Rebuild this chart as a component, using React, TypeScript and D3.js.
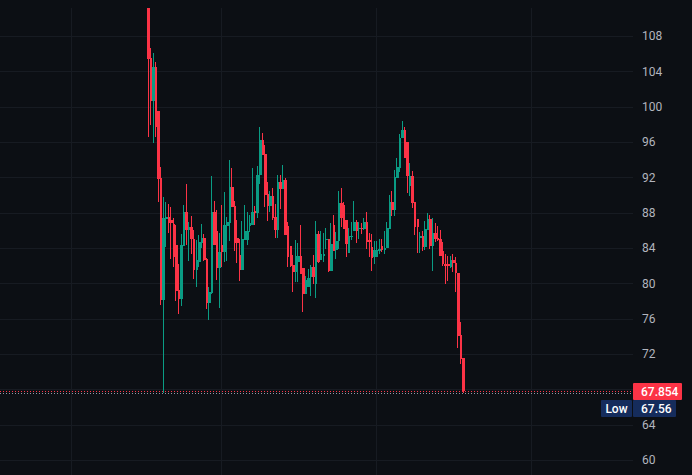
import React from "react";
import * as d3 from "d3";

const W = 692, H = 475;
const ticks = [108, 104, 100, 96, 92, 88, 84, 80, 76, 72, 64, 60];
const gridTicks = [108, 104, 100, 96, 92, 88, 84, 80, 76, 72, 68, 64, 60];
const timeGrid = [-30, 29, 90, 151];
const lastPrice = 67.854;
const lowPrice = 67.56;

const opens = [111.17,105.51,100.64,104.49,99.51,91.92,78.11,87.28,87.5,87.17,86.71,84.33,79.24,78.22,84.22,88.07,86.03,86.37,85.01,81.5,82.41,84.56,85.13,82.75,77.77,78.9,88.07,85.92,81.73,84.33,83.54,86.49,86.83,90.9,88.75,85.13,83.2,81.5,84.9,84.9,86.49,86.6,88.19,87.96,92.26,96.22,94.64,90.11,88.75,89.88,87.51,86.03,91.47,90.68,91.7,86.49,84.22,82.07,81.28,82.41,83.09,81.73,78.78,79.58,80.71,81.84,79.92,85.58,82.64,83.09,84.9,85.01,81.39,86.6,83.77,84.79,89.09,88.86,87.17,83.43,85.35,85.92,86.94,86.15,86.26,86.15,86.94,84.9,84.11,82.97,82.97,83.66,84.22,83.77,84.0,86.15,89.2,88.3,91.92,93.05,96.45,97.36,96.0,91.02,92.15,89.2,87.28,85.13,85.35,84.11,86.03,87.28,84.22,85.69,85.13,85.01,83.66,82.18,82.18,81.84,82.64,82.3,81.16,74.14,71.53];
const highs = [111.17,106.64,106.08,105.06,99.51,93.17,89.77,89.2,88.98,88.64,87.39,86.6,82.18,85.58,88.86,91.24,86.94,87.62,86.03,84.9,85.47,86.71,85.58,82.86,79.58,92.15,89.32,88.3,85.69,88.86,90.34,87.51,93.96,93.05,89.32,87.17,85.0,87.05,88.86,88.07,87.73,93.05,88.75,93.28,97.7,97.02,95.66,91.47,90.45,90.79,88.98,92.26,92.26,93.39,91.92,86.94,84.22,83.2,84.9,84.56,86.6,81.73,80.82,81.62,82.07,83.2,87.05,85.92,85.92,85.69,86.26,85.01,86.83,87.73,85.81,90.45,90.79,89.2,87.17,86.26,86.94,89.32,87.17,86.94,86.83,87.39,88.07,85.69,85.58,84.79,84.79,85.01,85.01,85.92,86.94,89.99,90.45,92.83,94.19,96.9,98.38,97.7,96.0,93.62,92.72,89.2,87.28,85.81,85.92,87.05,87.96,87.73,87.39,86.83,86.49,86.03,84.67,83.32,83.09,83.09,83.32,83.0,81.16,75.61,71.53];
const lows = [96.56,97.92,95.89,96.56,89.2,77.54,67.56,84.1,85.69,82.75,81.84,78.0,76.52,77.43,84.22,84.33,82.52,83.32,80.48,79.58,81.84,84.0,82.52,77.09,75.84,78.79,84.33,80.37,77.2,81.84,82.41,82.52,84.79,88.64,83.66,82.3,80.26,81.5,84.9,84.33,85.81,86.6,86.6,87.39,91.24,94.53,88.64,87.05,88.07,87.17,85.13,85.13,88.41,90.68,85.47,81.84,81.84,79.01,80.14,80.14,81.05,76.75,78.78,79.58,78.56,79.92,78.33,82.3,82.64,82.41,83.88,81.28,81.39,83.66,82.75,83.88,86.37,86.15,82.97,83.43,84.9,85.92,84.56,85.01,85.58,86.03,83.88,82.97,81.39,82.18,82.97,83.32,83.54,83.32,84.0,86.15,87.62,87.62,91.92,92.6,96.45,94.19,90.22,89.88,88.52,85.47,83.43,83.43,83.66,83.77,86.03,83.88,81.39,84.67,84.79,83.09,81.96,79.92,80.26,81.73,81.28,79.01,72.67,70.86,67.56];
const closes = [105.4,100.64,104.49,97.7,91.81,78.11,87.39,87.5,86.83,86.83,82.97,79.12,78.22,84.33,88.07,86.03,86.37,85.01,81.5,82.64,84.67,85.13,82.64,77.77,79.01,88.07,84.33,81.73,83.54,83.54,86.6,86.94,90.9,88.64,84.56,84.56,81.5,85.01,85.92,85.92,86.83,88.07,87.96,92.26,96.22,94.53,89.99,88.75,89.88,87.39,86.03,91.47,90.68,91.7,85.47,82.97,81.95,81.28,83.09,83.09,81.05,78.78,80.37,80.6,81.84,80.71,85.58,82.41,83.32,83.32,85.01,81.39,84.45,83.66,84.79,89.09,87.39,86.15,84.45,85.35,85.4,86.94,85.92,86.26,86.15,86.94,84.67,84.67,82.86,83.77,83.77,83.88,83.77,84.0,86.26,89.2,88.3,92.04,93.17,96.45,97.36,94.19,92.15,92.15,89.09,86.37,86.37,85.35,84.11,86.15,87.28,84.22,85.69,85.01,84.9,83.09,82.18,81.96,81.96,82.64,82.3,81.16,74.03,71.42,67.854];

const bars = opens.map((o, i) => ({ i, o, h: highs[i], l: lows[i], c: closes[i] }));

const UP = "#0a9c84";
const DOWN = "#fc3346";
const BG = "#0c0f14";
const GRID = "#171b22";
const AXIS = "#b2b5be";
const FONT = "Roboto, 'Noto Sans', sans-serif";

const y = d3.scaleLinear().domain([60, 108]).range([460, 36]);
const x = d3.scaleLinear().domain([0, bars.length - 1]).range([148, 463]);
const PANE = 633;

export default function App() {
  return (
    <svg width={W} height={H} style={{ position: "absolute", left: 0, top: 0, background: BG, display: "block" }}>
      <rect width={W} height={H} fill={BG} />
      <g shapeRendering="crispEdges">
        {gridTicks.map((t) => (
          <line key={t} x1={0} x2={PANE} y1={Math.round(y(t)) + 0.5} y2={Math.round(y(t)) + 0.5} stroke={GRID} />
        ))}
        {timeGrid.map((t) => (
          <line key={t} x1={Math.floor(x(t)) + 0.5} x2={Math.floor(x(t)) + 0.5} y1={8} y2={H} stroke={GRID} />
        ))}
        {bars.map((b) => {
          const px = x(b.i);
          const cx = Math.floor(px);
          const col = b.c >= b.o ? UP : DOWN;
          const top = Math.round(y(Math.max(b.o, b.c)));
          const bot = Math.round(y(Math.min(b.o, b.c)));
          const left = Math.round(px - 0.75);
          const right = Math.max(left + 2, Math.round(px + 1.75));
          return (
            <g key={b.i} fill={col}>
              <rect x={cx} y={Math.round(y(b.h))} width={1} height={Math.max(1, Math.round(y(b.l)) - Math.round(y(b.h)))} />
              <rect x={left} y={top} width={right - left} height={Math.max(1, bot - top)} />
            </g>
          );
        })}
        <line x1={0} x2={PANE} y1={Math.round(y(lastPrice)) + 0.5} y2={Math.round(y(lastPrice)) + 0.5} stroke={DOWN} strokeDasharray="1 2" />
        <line x1={0} x2={PANE} y1={Math.round(y(lowPrice)) + 0.5} y2={Math.round(y(lowPrice)) + 0.5} stroke="#8f98a8" strokeDasharray="1 2" />
      </g>
      <g fontFamily={FONT} fontSize={12} fill={AXIS}>
        {ticks.map((t) => (
          <text key={t} x={642} y={y(t)} dy="0.36em">{t}</text>
        ))}
      </g>
      <g fontFamily={FONT} fontSize={12} fontWeight={500} fill="#ffffff">
        <rect x={633} y={383} width={49} height={17} fill={DOWN} rx={1} />
        <text x={641} y={391.5} dy="0.36em">{lastPrice}</text>
        <rect x={601} y={400} width={31} height={17} fill="#152c5c" rx={1} />
        <text x={616.5} y={408.5} dy="0.36em" textAnchor="middle">Low</text>
        <rect x={633} y={400} width={43} height={17} fill="#152c5c" rx={1} />
        <text x={641} y={408.5} dy="0.36em">{lowPrice}</text>
      </g>
    </svg>
  );
}
